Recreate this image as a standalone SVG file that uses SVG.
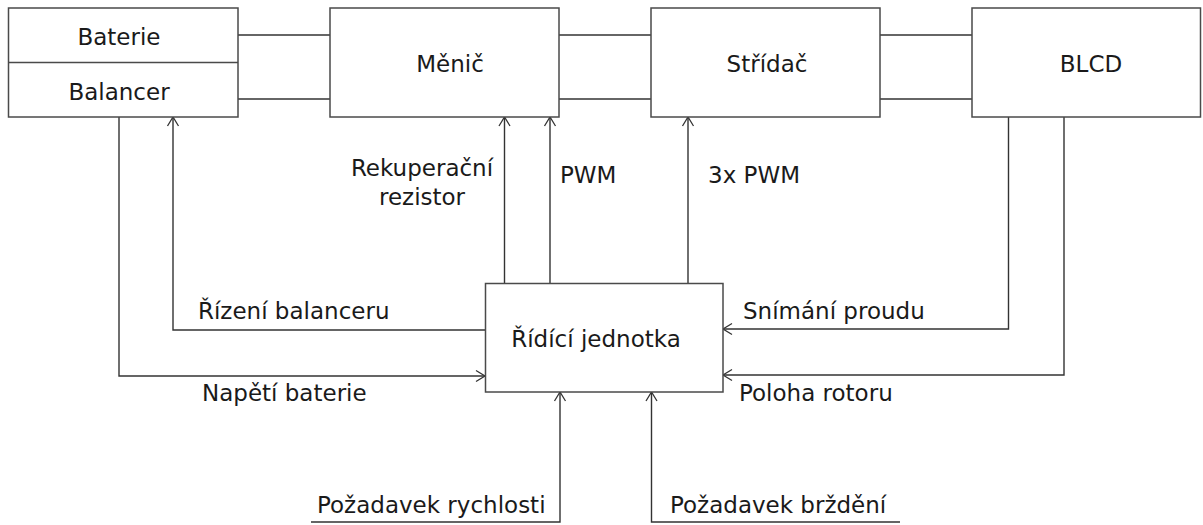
<svg xmlns="http://www.w3.org/2000/svg" width="1203" height="525" viewBox="0 0 1203 525">
<style>
.box{fill:#fff;stroke:#4a4a4a;stroke-width:1.5}
.ln{fill:none;stroke:#333;stroke-width:1.4}
.t{font-family:"DejaVu Sans",sans-serif;font-size:23px;fill:#1a1a1a}
.m{text-anchor:middle}
</style>
<defs>
<marker id="ar" markerUnits="userSpaceOnUse" markerWidth="14" markerHeight="14" refX="10" refY="7" orient="auto">
<path d="M1,1.5 L10,7 L1,12.5" fill="none" stroke="#333" stroke-width="1.3"/>
</marker>
</defs>
<rect width="1203" height="525" fill="#fff"/>
<g id="connectors">
<line class="ln" x1="238" y1="35" x2="330" y2="35"/>
<line class="ln" x1="238" y1="99" x2="330" y2="99"/>
<line class="ln" x1="559" y1="35" x2="651" y2="35"/>
<line class="ln" x1="559" y1="99" x2="651" y2="99"/>
<line class="ln" x1="880" y1="35" x2="972" y2="35"/>
<line class="ln" x1="880" y1="99" x2="972" y2="99"/>
<polyline class="ln" points="485,330 173,330 173,117" marker-end="url(#ar)"/>
<polyline class="ln" points="119,117 119,376 485,376" marker-end="url(#ar)"/>
<line class="ln" x1="504.5" y1="283" x2="504.5" y2="117" marker-end="url(#ar)"/>
<line class="ln" x1="550" y1="283" x2="550" y2="117" marker-end="url(#ar)"/>
<line class="ln" x1="688" y1="283" x2="688" y2="117" marker-end="url(#ar)"/>
<polyline class="ln" points="1008.5,117 1008.5,329 723,329" marker-end="url(#ar)"/>
<polyline class="ln" points="1064,117 1064,375 723,375" marker-end="url(#ar)"/>
<polyline class="ln" points="311,522 560,522 560,392" marker-end="url(#ar)"/>
<polyline class="ln" points="900,522 651.5,522 651.5,392" marker-end="url(#ar)"/>
</g>
<g id="labels">
<text class="t m" x="422" y="176">Rekuperační</text>
<text class="t m" x="422" y="205">rezistor</text>
<text class="t" x="560" y="183">PWM</text>
<text class="t" x="708" y="183">3x PWM</text>
<text class="t" x="198" y="319">Řízení balanceru</text>
<text class="t" x="202" y="401">Napětí baterie</text>
<text class="t" x="743" y="319">Snímání proudu</text>
<text class="t" x="739" y="401">Poloha rotoru</text>
<text class="t" x="317" y="513">Požadavek rychlosti</text>
<text class="t" x="670" y="513">Požadavek brždění</text>
</g>
<g id="baterie-balancer">
<rect class="box" x="8.5" y="8" width="229.5" height="109"/>
<line class="ln" x1="8.5" y1="62.5" x2="238" y2="62.5" style="stroke:#4a4a4a;stroke-width:1.5"/>
<text class="t m" x="119" y="45">Baterie</text>
<text class="t m" x="119" y="100">Balancer</text>
</g>
<g id="menic">
<rect class="box" x="330" y="8" width="229" height="109"/>
<text class="t m" x="450" y="72">Měnič</text>
</g>
<g id="stridac">
<rect class="box" x="651" y="8" width="229" height="109"/>
<text class="t m" x="767" y="72">Střídač</text>
</g>
<g id="blcd">
<rect class="box" x="972" y="8" width="228.5" height="109"/>
<text class="t m" x="1091" y="72">BLCD</text>
</g>
<g id="ridici-jednotka">
<rect class="box" x="485.5" y="283.5" width="237.5" height="108.5"/>
<text class="t m" x="596" y="347">Řídící jednotka</text>
</g>
</svg>
